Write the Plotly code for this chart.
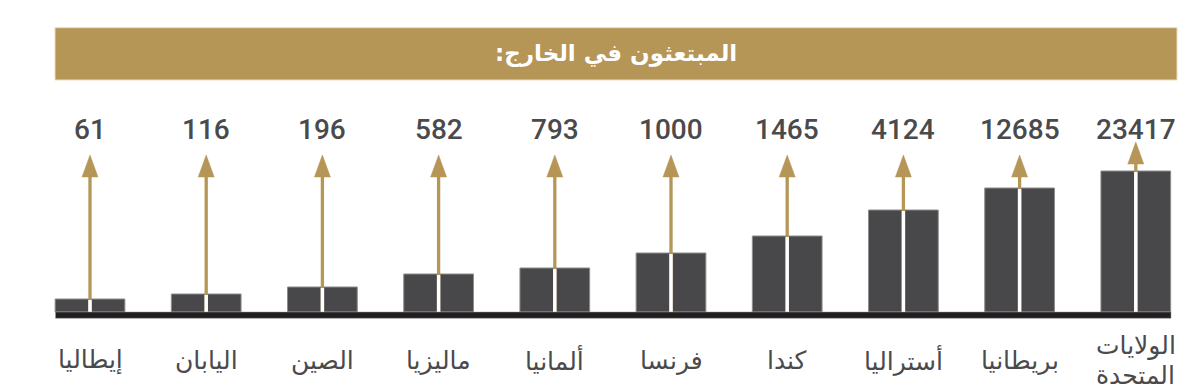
import plotly.graph_objects as go

# ---- data (drawn left to right as in the picture) ----
countries = ["إيطاليا", "اليابان", "الصين", "ماليزيا", "ألمانيا",
             "فرنسا", "كندا", "أستراليا", "بريطانيا", "الولايات<br>المتحدة"]
students = [61, 116, 196, 582, 793, 1000, 1465, 4124, 12685, 23417]
# schematic bar heights as drawn in the infographic (not to scale of values)
bar_heights = [13, 18, 25, 38, 44, 59, 76, 102, 124, 141]
title_text = "المبتعثون في الخارج:\u200f"

# ---- style ----
GOLD = "#b59656"
BAR = "#48484a"
TXT = "#4a4a4c"
ARROW_TIP = 157      # default arrow tip height (px units above baseline)
TIP_CLEAR = 29       # clearance of tip above tall bars
HEAD_H = 22
HEAD_HW = 8 / 116.2  # half width of head in x units
LABEL_Y = -48
LABEL_LINE = 30
LABEL_SIZE = 25

pos = list(range(len(countries)))
tips = [max(ARROW_TIP, h + TIP_CLEAR) for h in bar_heights]

fig = go.Figure()

fig.add_trace(go.Bar(
    x=pos, y=bar_heights, width=0.6,
    marker=dict(color=BAR, line=dict(color="#8c8c8c", width=1)),
    hoverinfo="skip", showlegend=False))

# gold shafts
sx, sy = [], []
for p, t in zip(pos, tips):
    sx += [p, p, None]
    sy += [0, t - HEAD_H + 2, None]
fig.add_trace(go.Scatter(x=sx, y=sy, mode="lines",
                         line=dict(color=GOLD, width=3.3),
                         hoverinfo="skip", showlegend=False))

# white splits inside bars
wx, wy = [], []
for p, h in zip(pos, bar_heights):
    wx += [p, p, None]
    wy += [-1, h - 1, None]
fig.add_trace(go.Scatter(x=wx, y=wy, mode="lines",
                         line=dict(color="white", width=3.5),
                         hoverinfo="skip", showlegend=False))

# arrowheads
hx, hy = [], []
for p, t in zip(pos, tips):
    hx += [p - HEAD_HW, p + HEAD_HW, p, p - HEAD_HW, None]
    hy += [t - HEAD_H, t - HEAD_H, t, t - HEAD_H, None]
fig.add_trace(go.Scatter(x=hx, y=hy, mode="lines", fill="toself",
                         fillcolor=GOLD, line=dict(color=GOLD, width=0.5),
                         hoverinfo="skip", showlegend=False))

annotations = []
for p, v in zip(pos, students):
    annotations.append(dict(x=p, y=182.5, xref="x", yref="y", text=str(v),
                            showarrow=False,
                            font=dict(family="Roboto", size=28, color=TXT, weight=500),
                            xanchor="center", yanchor="middle"))
for p, c in zip(pos, countries):
    lines = c.split("<br>")
    n = len(lines)
    for k, line in enumerate(lines):
        y = LABEL_Y + ((n - 1) / 2 - k) * LABEL_LINE
        annotations.append(dict(x=p, y=y, xref="x", yref="y", text=line,
                                showarrow=False,
                                font=dict(family="DejaVu Sans", size=LABEL_SIZE, color=TXT),
                                xanchor="center", yanchor="middle"))
annotations.append(dict(x=616 / 1200, y=1 - 54 / 392, xref="paper", yref="paper",
                        text=title_text, showarrow=False,
                        font=dict(family="DejaVu Sans", size=23, color="white", weight="bold"),
                        xanchor="center", yanchor="middle"))

shapes = [
    dict(type="rect", xref="paper", yref="paper",
         x0=55 / 1200, x1=1177 / 1200, y0=1 - 80 / 392, y1=1 - 27.7 / 392,
         fillcolor=GOLD, line=dict(color="#eadcbc", width=1), layer="below"),
    dict(type="rect", xref="paper", yref="y",
         x0=55.5 / 1200, x1=1171 / 1200, y0=-6.3, y1=0,
         fillcolor="#231f20", line=dict(color="#9a9a9a", width=0.5), layer="above"),
]

fig.update_layout(
    width=1200, height=392, autosize=False,
    margin=dict(l=0, r=0, t=0, b=0),
    paper_bgcolor="white", plot_bgcolor="white",
    xaxis=dict(range=[-90 / 116.2, (1200 - 90) / 116.2], visible=False, fixedrange=True),
    yaxis=dict(range=[-80, 312], visible=False, fixedrange=True),
    annotations=annotations, shapes=shapes, showlegend=False,
)

fig.write_html("out.html", config={"displayModeBar": False},
               post_script="document.body.style.margin='0';document.body.style.padding='0';")
